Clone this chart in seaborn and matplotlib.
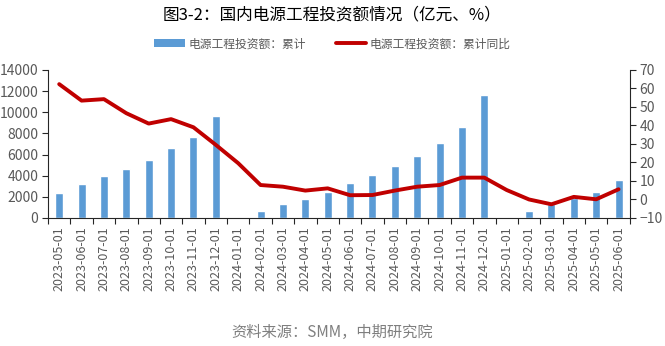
import numpy as np
import pandas as pd
import matplotlib
matplotlib.use("Agg")
import matplotlib.pyplot as plt
import seaborn as sns
from matplotlib.patches import Patch
from matplotlib.lines import Line2D
from matplotlib.ticker import FixedLocator

dates = ["2023-05-01", "2023-06-01", "2023-07-01", "2023-08-01", "2023-09-01",
         "2023-10-01", "2023-11-01", "2023-12-01", "2024-01-01", "2024-02-01",
         "2024-03-01", "2024-04-01", "2024-05-01", "2024-06-01", "2024-07-01",
         "2024-08-01", "2024-09-01", "2024-10-01", "2024-11-01", "2024-12-01",
         "2025-01-01", "2025-02-01", "2025-03-01", "2025-04-01", "2025-05-01",
         "2025-06-01"]
cumulative = [2350, 3250, 4000, 4650, 5500, 6600, 7700, 9600, np.nan, 700,
              1300, 1800, 2500, 3350, 4100, 4950, 5900, 7100, 8600, 11650,
              np.nan, 700, 1300, 1900, 2500, 3600]
yoy = [62.3, 53.4, 54.2, 46.6, 41.0, 43.4, 39.0, 29.5, 19.6, 7.8,
       6.9, 4.8, 6.0, 2.3, 2.4, 4.8, 6.9, 7.8, 11.8, 11.8,
       5.1, 0.0, -2.6, 1.4, 0.1, 5.5]
bar_label = "电源工程投资额：累计"
line_label = "电源工程投资额：累计同比"
title = "图3-2：国内电源工程投资额情况（亿元、%）"
source = "资料来源：SMM，中期研究院"

sns.set_theme(style="white")
plt.rcParams["font.family"] = ["Noto Sans CJK SC", "DejaVu Sans"]

df = pd.DataFrame({"date": dates, "cum": cumulative, "yoy": yoy})
df["pos"] = np.arange(len(df))

bar_color = "#5B9BD5"
line_color = "#C00000"
tick_color = "#595959"
axis_color = "#262626"

fig = plt.figure(figsize=(6.65, 3.46), dpi=100)
ax = fig.add_axes([0.0722, 0.370, 0.8748, 0.428])

sns.barplot(data=df, x="date", y="cum", order=dates, color=bar_color,
            width=0.36, saturation=1, ax=ax)
ax2 = ax.twinx()
sns.lineplot(data=df, x="pos", y="yoy", color=line_color, linewidth=2.8,
             ax=ax2, solid_joinstyle="round", solid_capstyle="round")

n = len(dates)
ax.set_xlim(-0.5, n - 0.5)
ax2.set_xlim(-0.5, n - 0.5)
ax.set_ylim(0, 14000)
ax.set_yticks(np.arange(0, 14001, 2000))
ax2.set_ylim(-10, 70)
ax2.set_yticks(np.arange(-10, 71, 10))

ax.set_xlabel("")
ax.set_ylabel("")
ax2.set_xlabel("")
ax2.set_ylabel("")

ax.set_xticks(np.arange(n))
ax.set_xticklabels(dates, rotation=90, fontsize=9, color=tick_color)
ax.xaxis.set_minor_locator(FixedLocator(np.arange(-0.5, n, 1.0)))
ax.tick_params(axis="x", which="major", length=0, pad=6)
ax.tick_params(axis="x", which="minor", length=4, width=0.8, color=axis_color,
               direction="out", bottom=True)
ax.tick_params(axis="y", which="major", labelsize=10, labelcolor=tick_color,
               length=4, width=0.8, color=axis_color, direction="out", left=True, pad=3)
ax2.tick_params(axis="y", which="major", labelsize=10, labelcolor=tick_color,
                length=4, width=0.8, color=axis_color, direction="out", right=True, pad=3)

for a in (ax, ax2):
    a.grid(False)
    a.spines["top"].set_visible(False)
    for s in ("left", "right", "bottom"):
        a.spines[s].set_color(axis_color)
        a.spines[s].set_linewidth(0.8)
ax.spines["right"].set_visible(False)
ax2.spines["left"].set_visible(False)
ax2.spines["bottom"].set_visible(False)

handles = [Patch(facecolor=bar_color, edgecolor="none"),
           Line2D([0], [0], color=line_color, linewidth=2.8)]
fig.legend(handles, [bar_label, line_label], loc="center", bbox_to_anchor=(0.5, 0.873),
           ncol=2, frameon=False, fontsize=8.5, labelcolor=tick_color,
           handlelength=2.6, handleheight=0.7, columnspacing=2.5, handletextpad=0.3)

fig.text(0.5, 0.957, title, ha="center", va="center", fontsize=12, color="#000000")
fig.text(0.5, 0.040, source, ha="center", va="center", fontsize=11, color="#7f7f7f")

fig.savefig("out.png", dpi=100, facecolor="white")
